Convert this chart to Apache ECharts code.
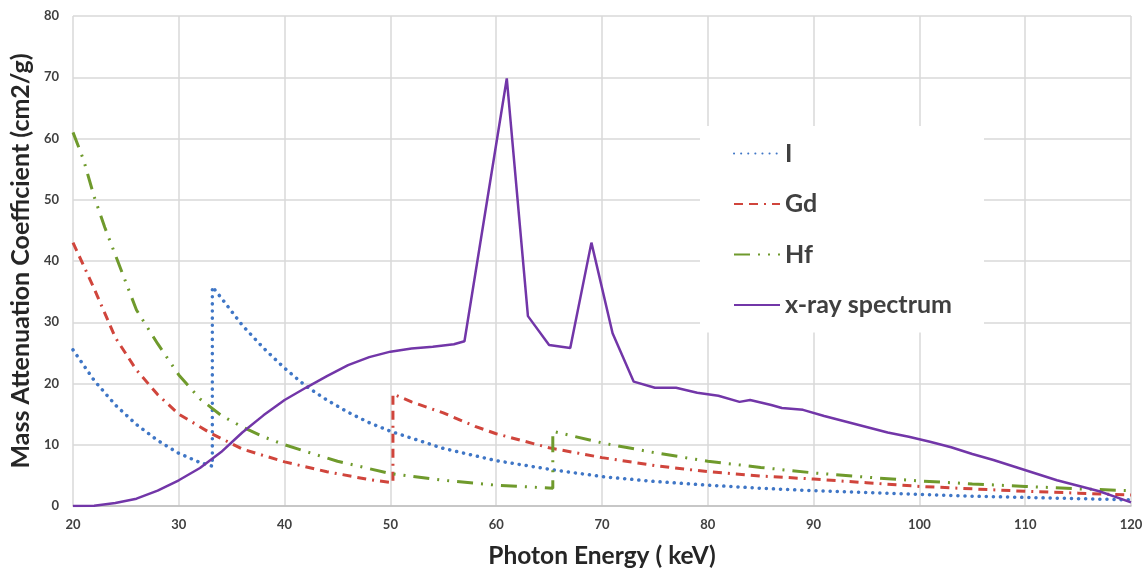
<!DOCTYPE html>
<html>
<head>
<meta charset="utf-8">
<style type="text/css">
html, body { margin: 0; padding: 0; background: #fff; }
#chart { width: 1146px; height: 576px; }
</style>
<script src="https://cdn.jsdelivr.net/npm/echarts@6/dist/echarts.min.js"></script>
</head>
<body>
<div id="chart"></div>
<script type="text/javascript">
// energy (keV) / value pairs
var energyI = [20, 22, 24, 26, 28, 30, 32, 33.17, 33.17, 34, 36, 38, 40, 42, 44, 46, 48, 50, 55, 60, 65, 70, 75, 80, 85, 90, 95, 100, 105, 110, 115, 120];
var valI    = [25.5, 20.5, 16.5, 13.3, 10.7, 8.6, 7.1, 6.5, 35.8, 34, 29.5, 25.8, 22.5, 19.6, 17.3, 15.3, 13.6, 12.2, 9.4, 7.4, 6.0, 4.8, 4.0, 3.4, 2.9, 2.5, 2.2, 1.9, 1.6, 1.4, 1.2, 1.0];

var energyGd = [20, 22, 24, 26, 28, 30, 33, 36, 40, 44, 48, 50.24, 50.24, 52, 55, 58, 60, 65, 70, 75, 80, 85, 90, 95, 100, 105, 110, 115, 120];
var valGd    = [43, 35.5, 27.5, 22.2, 18.2, 15.0, 11.9, 9.3, 7.2, 5.6, 4.3, 3.8, 18.3, 17.0, 15.2, 13.0, 11.8, 9.5, 7.9, 6.6, 5.6, 4.9, 4.4, 3.8, 3.2, 2.8, 2.4, 2.1, 1.8];

var energyHf = [20, 21, 22, 23, 24, 26, 28, 30, 32, 34, 36, 38, 40, 42, 45, 48, 50, 55, 60, 65.35, 65.35, 70, 75, 80, 85, 90, 95, 100, 105, 110, 115, 120];
var valHf    = [61, 56.5, 50.5, 45.5, 41, 32, 26.5, 21.4, 17.5, 14.8, 12.9, 11.3, 10.0, 8.9, 7.3, 6.1, 5.3, 4.2, 3.4, 2.9, 12.2, 10.3, 8.7, 7.3, 6.3, 5.4, 4.7, 4.1, 3.6, 3.2, 2.8, 2.5];

var energyX = [20, 22, 24, 26, 28, 30, 32, 34, 36, 38, 40, 42, 44, 46, 48, 50, 52, 54, 56, 57, 61, 63, 65, 67, 69, 71, 73, 75, 77, 79, 81, 83, 84, 86, 87, 89, 91, 93, 95, 97, 99, 101, 103, 105, 107, 109, 111, 113, 115, 117, 119, 120];
var valX    = [0, 0.05, 0.5, 1.2, 2.5, 4.2, 6.2, 8.8, 12, 14.8, 17.3, 19.3, 21.2, 23.0, 24.3, 25.2, 25.7, 26.0, 26.4, 26.9, 69.8, 31.0, 26.3, 25.8, 43.0, 28.2, 20.3, 19.3, 19.3, 18.5, 18.0, 17.0, 17.3, 16.5, 16.0, 15.7, 14.7, 13.8, 12.9, 12.0, 11.3, 10.5, 9.6, 8.5, 7.5, 6.4, 5.3, 4.2, 3.3, 2.4, 1.2, 0.6];

var names = ['I', 'Gd', 'Hf', 'x-ray spectrum'];
var xTicks = [20, 120, 10];
var yTicks = [0, 80, 10];

function pairs(xs, ys) {
    var res = [];
    for (var i = 0; i < xs.length; i++) res.push([xs[i], ys[i]]);
    return res;
}

var font = 'Lato, "Open Sans", sans-serif';
var myChart = echarts.init(document.getElementById('chart'));
var option = {
    animation: false,
    backgroundColor: '#fff',
    grid: { left: 73, right: 15, top: 16, bottom: 70, containLabel: false },
    legend: {
        data: names,
        orient: 'vertical',
        left: 700,
        top: 126,
        padding: [15, 32, 15, 33],
        backgroundColor: '#fff',
        itemWidth: 46,
        itemHeight: 14,
        itemGap: 25.5,
        itemStyle: { opacity: 0 },
        textStyle: { fontFamily: font, fontSize: 25, fontWeight: 'bold', color: '#404040', lineHeight: 22 }
    },
    xAxis: {
        type: 'value',
        min: xTicks[0],
        max: xTicks[1],
        interval: xTicks[2],
        name: 'Photon Energy ( keV)',
        nameLocation: 'middle',
        nameGap: 38,
        nameTextStyle: { fontFamily: font, fontSize: 24.5, fontWeight: 'bold', color: '#262626' },
        axisLine: { lineStyle: { color: '#bfbfbf', width: 1.5 } },
        axisTick: { show: false },
        axisLabel: { fontFamily: font, fontSize: 13, fontWeight: 'bold', color: '#404040', margin: 12 },
        splitLine: { show: true, lineStyle: { color: '#d9d9d9', width: 1.5 } }
    },
    yAxis: {
        type: 'value',
        min: yTicks[0],
        max: yTicks[1],
        interval: yTicks[2],
        name: 'Mass Attenuation Coefficient (cm2/g)',
        nameLocation: 'middle',
        nameGap: 33,
        nameTextStyle: { fontFamily: font, fontSize: 25, fontWeight: 'bold', color: '#262626' },
        axisLine: { show: false },
        axisTick: { show: false },
        axisLabel: { fontFamily: font, fontSize: 13, fontWeight: 'bold', color: '#404040', margin: 14 },
        splitLine: { lineStyle: { color: '#d9d9d9', width: 1.5 } }
    },
    series: [
        {
            name: names[0], type: 'line', symbol: 'none',
            data: pairs(energyI, valI),
            lineStyle: { color: '#3f76c6', width: 3.5, type: [0.1, 7], cap: 'round' },
            itemStyle: { color: '#3f76c6' }
        },
        {
            name: names[1], type: 'line', symbol: 'none',
            data: pairs(energyGd, valGd),
            lineStyle: { color: '#d0453c', width: 3, type: [9, 6, 9, 6, 2, 6] },
            itemStyle: { color: '#d0453c' }
        },
        {
            name: names[2], type: 'line', symbol: 'none',
            data: pairs(energyHf, valHf),
            lineStyle: { color: '#6f9a2c', width: 3, type: [16, 8, 2, 8, 2, 8] },
            itemStyle: { color: '#6f9a2c' }
        },
        {
            name: names[3], type: 'line', symbol: 'none',
            data: pairs(energyX, valX),
            lineStyle: { color: '#7236a8', width: 2.5 },
            itemStyle: { color: '#7236a8' }
        }
    ]
};
myChart.setOption(option);
</script>
</body>
</html>
